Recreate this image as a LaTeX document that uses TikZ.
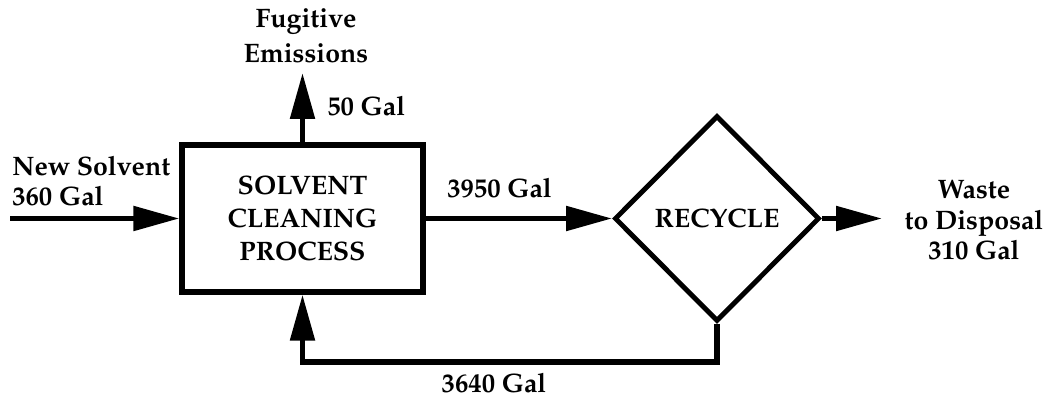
\documentclass[tikz,border=0pt]{standalone}
\usepackage[T1]{fontenc}
\usepackage{mathpazo}
\usetikzlibrary{positioning, arrows.meta, shapes.geometric, calc}

\begin{document}
\begin{tikzpicture}[flow/.style={line width=3.8pt, -{Triangle[length=1.15cm, width=0.6cm]}},
    lbl/.style={inner sep=0pt, font=\fontsize{19}{21.5}\selectfont\bfseries}]
  \useasboundingbox (0,0) rectangle (26.225,-10.025);
  \node[draw, line width=3.8pt, minimum width=6.025cm, minimum height=3.675cm, align=center, lbl, font=\fontsize{19}{23.5}\selectfont\bfseries] (proc) at (7.5625,-5.4625) {SOLVENT\\CLEANING\\PROCESS};
  \node[diamond, draw, line width=3.5pt, minimum width=5.125cm, minimum height=5.15cm, lbl] (recyc) at (17.925,-5.4625) {RECYCLE};
  \node[lbl, align=center, font=\fontsize{19}{24.5}\selectfont\bfseries] (fug) at (7.65,-0.9) {Fugitive\\Emissions};
  \node[lbl, align=left, anchor=west] (newsolv) at (0.3,-4.525) {New Solvent\\360 Gal};
  \node[lbl, anchor=west] (g50) at (8.175,-2.65) {50 Gal};
  \node[lbl, anchor=west] (g3950) at (11.175,-4.7) {3950 Gal};
  \node[lbl] (g3640) at (12.35,-9.58) {3640 Gal};
  \node[lbl, align=center] (waste) at (24.35,-5.5) {Waste\\to Disposal\\310 Gal};
  \coordinate (src) at (0.25,-5.4625);
  \coordinate (vent) at (7.5625,-1.825);
  \coordinate (out) at (22.05,-5.4625);
  \coordinate (ret) at (7.5625,-9.05);
  \draw[flow] (src) -- (proc.west);
  \draw[flow] (proc.north) -- (vent);
  \draw[flow] (proc.east) -- (recyc.west);
  \draw[flow] (recyc.east) -- (out);
  \draw[flow] (recyc.south) |- (ret) -- (proc.south);
\end{tikzpicture}
\end{document}
